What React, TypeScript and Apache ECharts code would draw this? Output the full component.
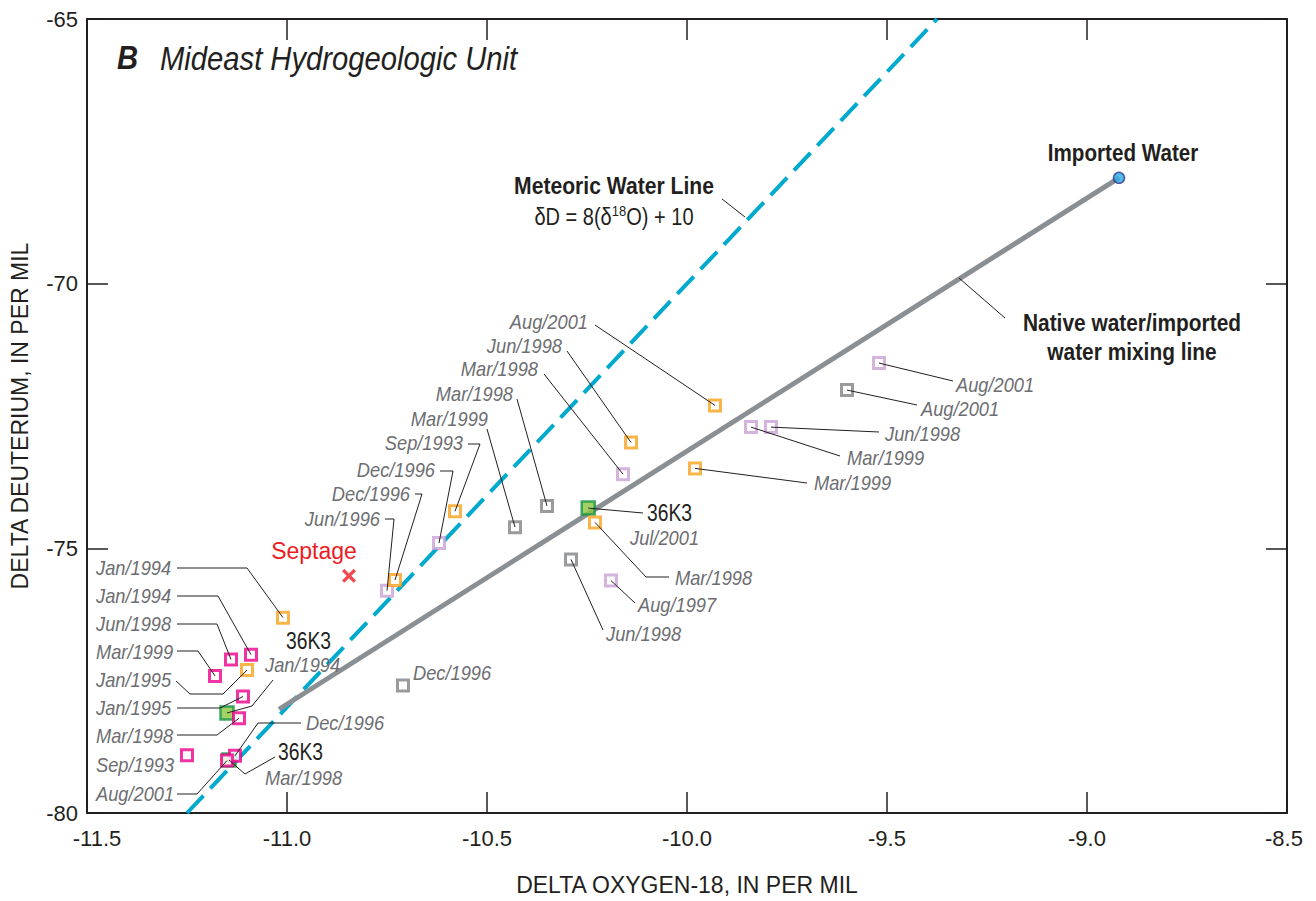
import React, { useEffect, useRef } from 'react';
import * as echarts from 'echarts';

// ---------------- data (delta O-18, delta D) ----------------
const orangePts: number[][] = [
  [-9.93, -72.3], [-10.14, -73.0], [-9.98, -73.49], [-10.58, -74.3],
  [-10.23, -74.51], [-10.73, -75.6], [-11.01, -76.31], [-11.1, -77.3],
];
const orangeDates = ['Aug/2001', 'Jun/1998', 'Mar/1999', 'Sep/1993', 'Mar/1998', 'Dec/1996', 'Jan/1994', 'Jan/1995'];

const purplePts: number[][] = [
  [-9.52, -71.5], [-9.84, -72.71], [-9.79, -72.71], [-10.16, -73.6],
  [-10.62, -74.9], [-10.75, -75.8], [-10.19, -75.61],
];
const purpleDates = ['Aug/2001', 'Mar/1999', 'Jun/1998', 'Mar/1998', 'Dec/1996', 'Jun/1996', 'Aug/1997'];

const grayPts: number[][] = [
  [-9.6, -72.01], [-10.35, -74.2], [-10.43, -74.6], [-10.29, -75.21], [-10.71, -77.59],
];
const grayDates = ['Aug/2001', 'Mar/1998', 'Mar/1999', 'Jun/1998', 'Dec/1996'];

const magentaPts: number[][] = [
  [-11.09, -77.01], [-11.14, -77.1], [-11.18, -77.41], [-11.11, -77.8],
  [-11.12, -78.21], [-11.25, -78.91], [-11.13, -78.92], [-11.15, -79.01],
];
const magentaDates = ['Jan/1994', 'Jun/1998', 'Mar/1999', 'Jan/1995', 'Mar/1998', 'Sep/1993', 'Dec/1996', 'Aug/2001'];

const greenPts: number[][] = [[-10.247, -74.24], [-11.15, -78.11], [-11.145, -79.0]];
const greenSites = ['36K3', '36K3', '36K3'];
const greenDates = ['Jul/2001', 'Jan/1994', 'Mar/1998'];

const septagePt: number[][] = [[-10.845, -75.52]];
const importedPt: number[][] = [[-8.92, -68.0]];

// Meteoric water line dD = 8(d18O) + 10, end points at the plot frame
const meteoricLine: number[][] = [[-11.25, -80], [-9.375, -65]];
// Native water / imported water mixing line
const mixingLine: number[][] = [[-11.02, -78.04], [-8.92, -68.0]];

// ---------------- layout of annotation labels (pixels) ----------------
type Lab = { x: number; y: number; align: string; leader: number[][] };
const orangeLab: Lab[] = [
  { x: 588, y: 322, align: 'right', leader: [[595, 325]] },
  { x: 562, y: 346, align: 'right', leader: [[567, 351]] },
  { x: 814, y: 483, align: 'left', leader: [[807, 483]] },
  { x: 463, y: 443, align: 'right', leader: [[468, 444], [480, 444]] },
  { x: 675, y: 578, align: 'left', leader: [[669, 577], [646, 577]] },
  { x: 410, y: 494, align: 'right', leader: [[415, 494], [422, 494]] },
  { x: 96, y: 568, align: 'left', leader: [[177, 568], [247, 568]] },
  { x: 96, y: 680, align: 'left', leader: [[176, 681], [190, 694], [223, 694]] },
];
const purpleLab: Lab[] = [
  { x: 956, y: 385, align: 'left', leader: [[953, 381]] },
  { x: 847, y: 458, align: 'left', leader: [[840, 456]] },
  { x: 885, y: 434, align: 'left', leader: [[879, 432]] },
  { x: 538, y: 369, align: 'right', leader: [[544, 374]] },
  { x: 435, y: 470, align: 'right', leader: [[440, 471], [453, 471]] },
  { x: 380, y: 519, align: 'right', leader: [[385, 519], [394, 519]] },
  { x: 638, y: 605, align: 'left', leader: [[635, 603]] },
];
const grayLab: Lab[] = [
  { x: 921, y: 409, align: 'left', leader: [[917, 405]] },
  { x: 513, y: 394, align: 'right', leader: [[517, 399]] },
  { x: 488, y: 419, align: 'right', leader: [[487, 429]] },
  { x: 606, y: 634, align: 'left', leader: [[603, 630]] },
  { x: 413, y: 673, align: 'left', leader: [] },
];
const magentaLab: Lab[] = [
  { x: 96, y: 596, align: 'left', leader: [[177, 596], [218, 596]] },
  { x: 96, y: 624, align: 'left', leader: [[177, 624], [217, 624]] },
  { x: 96, y: 652, align: 'left', leader: [[177, 651], [198, 651]] },
  { x: 96, y: 708, align: 'left', leader: [[177, 708], [220, 708]] },
  { x: 96, y: 736, align: 'left', leader: [[177, 735], [217, 735]] },
  { x: 96, y: 765, align: 'left', leader: [] },
  { x: 306, y: 723, align: 'left', leader: [[301, 723], [258, 723]] },
  { x: 96, y: 794, align: 'left', leader: [[177, 794], [197, 794]] },
];
const greenLab = [
  { sx: 647, sy: 513, dx: 630, dy: 538, leader: [[643, 513]] },
  { sx: 286, sy: 641, dx: 265, dy: 665, leader: [[273, 680], [252, 706]] },
  { sx: 278, sy: 752, dx: 265, dy: 778, leader: [[275, 757], [245, 774]] },
];

const REG = '"Liberation Sans", Arial, sans-serif';
const INK = '#231f20';
const LABEL_GRAY = '#6d6e71';

const C_ORANGE = '#f7a21b';
const C_PURPLE = '#c9a0d6';
const C_GRAY = '#808285';
const C_MAGENTA = '#ec008c';

function txt(text: string, x: number, y: number, o: any = {}) {
  const align = o.align || 'left';
  return {
    type: 'text',
    x,
    y,
    scaleX: o.scaleX || 0.87,
    scaleY: 1,
    z: 100,
    silent: true,
    style: {
      text,
      fill: o.fill || LABEL_GRAY,
      fontFamily: o.fontFamily || REG,
      fontSize: o.fontSize || 21,
      fontStyle: o.fontStyle || 'italic',
      fontWeight: o.fontWeight || 'normal',
      textAlign: align,
      align,
      textVerticalAlign: 'middle',
      verticalAlign: 'middle',
      rich: o.rich,
    },
  };
}

function poly(points: number[][]) {
  return {
    type: 'polyline',
    z: 99,
    silent: true,
    shape: { points },
    style: { stroke: INK, lineWidth: 1, fill: null },
  };
}

const axisLineStyle = { color: INK, width: 2 };
const tickCfg = { show: true, inside: true, length: 21, lineStyle: { color: INK, width: 1.5 } };

function squareSeries(data: number[][], color: string) {
  return {
    type: 'scatter',
    data,
    symbol: 'rect',
    symbolSize: 11,
    z: 5,
    silent: true,
    itemStyle: { color: '#ffffff', borderColor: color, borderWidth: 3 },
  };
}

export default function App() {
  const ref = useRef<HTMLDivElement>(null);

  useEffect(() => {
    const el = ref.current!;
    const chart = echarts.init(el, null, { renderer: 'svg' });
    const option: any = {
      animation: false,
      backgroundColor: '#ffffff',
      grid: { left: 87, right: 29, top: 19, bottom: 88, containLabel: false },
      xAxis: [
        {
          type: 'value', min: -11.5, max: -8.5, interval: 0.5, position: 'bottom',
          axisLine: { show: true, onZero: false, lineStyle: axisLineStyle },
          axisTick: tickCfg,
          splitLine: { show: false },
          axisLabel: {
            show: true, margin: 14, color: INK, fontFamily: REG, fontSize: 22,
            showMinLabel: true, showMaxLabel: true,
            formatter: (v: number) =>
              v === -11.5 ? '{l|-11.5}' : v === -8.5 ? '{r|-8.5}' : '{n|' + v.toFixed(1) + '}',
            rich: {
              l: { padding: [0, 0, 0, 20], fontFamily: REG, fontSize: 22, color: INK },
              r: { padding: [0, 6, 0, 0], fontFamily: REG, fontSize: 22, color: INK },
              n: { fontFamily: REG, fontSize: 22, color: INK },
            },
          },
          name: 'DELTA OXYGEN-18, IN PER MIL',
          nameLocation: 'middle',
          nameGap: 60,
          nameTextStyle: { fontFamily: REG, fontSize: 23, color: INK },
        },
        {
          type: 'value', min: -11.5, max: -8.5, interval: 0.5, position: 'top',
          axisLine: { show: true, onZero: false, lineStyle: axisLineStyle },
          axisTick: tickCfg, axisLabel: { show: false }, splitLine: { show: false },
        },
      ],
      yAxis: [
        {
          type: 'value', min: -80, max: -65, interval: 5, position: 'left',
          axisLine: { show: true, onZero: false, lineStyle: axisLineStyle },
          axisTick: tickCfg,
          splitLine: { show: false },
          axisLabel: { show: true, margin: 9, color: INK, fontFamily: REG, fontSize: 22 },
          name: 'DELTA DEUTERIUM, IN PER MIL',
          nameLocation: 'middle',
          nameGap: 56,
          nameTextStyle: { fontFamily: REG, fontSize: 23, color: INK },
        },
        {
          type: 'value', min: -80, max: -65, interval: 5, position: 'right',
          axisLine: { show: true, onZero: false, lineStyle: axisLineStyle },
          axisTick: tickCfg, axisLabel: { show: false }, splitLine: { show: false },
        },
      ],
      series: [
        {
          type: 'line', data: meteoricLine, symbol: 'none', z: 2, silent: true,
          lineStyle: { color: '#00a9ce', width: 4, type: [24, 10] },
        },
        {
          type: 'line', data: mixingLine, symbol: 'none', z: 2, silent: true,
          lineStyle: { color: '#8a8f94', width: 5 },
        },
        squareSeries(grayPts, C_GRAY),
        squareSeries(purplePts, C_PURPLE),
        squareSeries(orangePts, C_ORANGE),
        {
          type: 'scatter', data: greenPts, symbol: 'rect', symbolSize: 13, z: 4, silent: true,
          itemStyle: { color: '#8dc63f', borderColor: '#139447', borderWidth: 2.5 },
        },
        squareSeries(magentaPts, C_MAGENTA),
        {
          type: 'scatter', data: septagePt, z: 5, silent: true,
          symbol: 'path://M2,0L6,4L10,0L12,2L8,6L12,10L10,12L6,8L2,12L0,10L4,6L0,2Z',
          symbolSize: 14,
          itemStyle: { color: '#ed1c24' },
        },
        {
          type: 'scatter', data: importedPt, symbol: 'circle', symbolSize: 11, z: 6, silent: true,
          itemStyle: { color: '#29abe2', borderColor: '#2e3192', borderWidth: 1.5 },
        },
      ],
    };
    chart.setOption(option);

    const toPx = (p: number[]) => chart.convertToPixel({ xAxisIndex: 0, yAxisIndex: 0 }, p) as number[];
    const g: any[] = [];

    const addGroup = (pts: number[][], dates: string[], labs: Lab[]) => {
      pts.forEach((p, i) => {
        const l = labs[i];
        g.push(txt(dates[i], l.x, l.y, { align: l.align }));
        if (l.leader.length) g.push(poly([...l.leader, toPx(p)]));
      });
    };
    addGroup(orangePts, orangeDates, orangeLab);
    addGroup(purplePts, purpleDates, purpleLab);
    addGroup(grayPts, grayDates, grayLab);
    addGroup(magentaPts, magentaDates, magentaLab);
    greenPts.forEach((p, i) => {
      const l = greenLab[i];
      g.push(txt(greenSites[i], l.sx, l.sy, { fill: INK, fontStyle: 'normal', fontSize: 23, scaleX: 0.84 }));
      g.push(txt(greenDates[i], l.dx, l.dy));
      g.push(poly([...l.leader, toPx(p)]));
    });

    // panel title
    g.push(txt('B', 117, 58, { fill: INK, fontWeight: 'bold', fontSize: 33, scaleX: 0.885 }));
    g.push(txt('Mideast Hydrogeologic Unit', 160, 59, { fill: INK, fontSize: 33, scaleX: 0.885 }));

    // meteoric water line label
    g.push(txt('Meteoric Water Line', 614, 186, { fill: INK, fontStyle: 'normal', fontWeight: 'bold', fontSize: 24, align: 'center', scaleX: 0.88 }));
    g.push(txt('{a|δD = 8(δ}{s|18}{a|O) + 10}', 614, 217, {
      fill: INK, fontStyle: 'normal', fontSize: 23, align: 'center', scaleX: 0.87,
      rich: {
        a: { fontFamily: REG, fontSize: 23, fill: INK, color: INK, lineHeight: 27 },
        s: { fontFamily: REG, fontSize: 15, fill: INK, color: INK, verticalAlign: 'top', lineHeight: 15 },
      },
    }));
    g.push(poly([[722, 199], [745, 217]]));

    // imported water
    g.push(txt('Imported Water', 1123, 153, { fill: INK, fontStyle: 'normal', fontWeight: 'bold', fontSize: 24, align: 'center', scaleX: 0.86 }));

    // mixing line label
    g.push(txt('Native water/imported', 1132, 323, { fill: INK, fontStyle: 'normal', fontWeight: 'bold', fontSize: 24, align: 'center' }));
    g.push(txt('water mixing line', 1132, 352, { fill: INK, fontStyle: 'normal', fontWeight: 'bold', fontSize: 24, align: 'center' }));
    g.push(poly([[959, 278], [1005, 318]]));

    // septage
    g.push(txt('Septage', 314, 551, { fill: '#ed1c24', fontStyle: 'normal', fontSize: 23, align: 'center', scaleX: 1 }));

    chart.setOption({ graphic: { elements: g } });

    return () => chart.dispose();
  }, []);

  return (
    <div
      ref={ref}
      style={{ position: 'fixed', left: 0, top: 0, width: 1316, height: 901, background: '#ffffff' }}
    />
  );
}
